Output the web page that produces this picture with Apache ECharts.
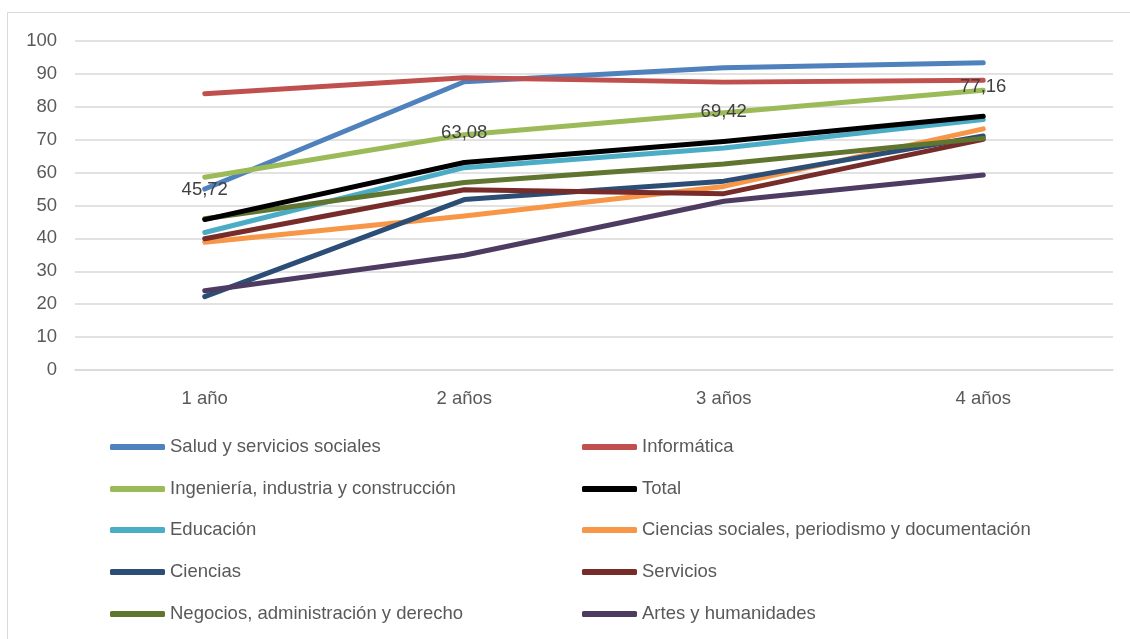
<!DOCTYPE html>
<html>
<head>
<meta charset="utf-8">
<script src="https://cdn.jsdelivr.net/npm/echarts@6/dist/echarts.min.js"></script>
<style>html,body{margin:0;padding:0;background:#fff}#c{width:1130px;height:639px}</style>
</head>
<body>
<div id="c"></div>
<script>
const categories = ['1 año', '2 años', '3 años', '4 años'];
const yTicks = [0, 10, 20, 30, 40, 50, 60, 70, 80, 90, 100];

const salud      = [55.0, 87.6, 91.9, 93.4];
const informatica= [84.0, 88.8, 87.5, 88.1];
const ingenieria = [58.6, 71.5, 78.2, 85.0];
const total      = [45.72, 63.08, 69.42, 77.16];
const educacion  = [41.8, 61.5, 67.5, 76.1];
const cSociales  = [38.8, 46.8, 55.8, 73.3];
const ciencias   = [22.3, 51.8, 57.4, 71.1];
const servicios  = [39.9, 54.8, 53.6, 70.1];
const negocios   = [46.0, 57.0, 62.6, 70.4];
const artes      = [24.1, 34.9, 51.3, 59.3];

const seriesDefs = [
  ['Salud y servicios sociales', salud, '#4F81BD'],
  ['Informática', informatica, '#C0504D'],
  ['Ingeniería, industria y construcción', ingenieria, '#9BBB59'],
  ['Total', total, '#000000'],
  ['Educación', educacion, '#4BACC6'],
  ['Ciencias sociales, periodismo y documentación', cSociales, '#F79646'],
  ['Ciencias', ciencias, '#2C4D75'],
  ['Servicios', servicios, '#772C2A'],
  ['Negocios, administración y derecho', negocios, '#5F7530'],
  ['Artes y humanidades', artes, '#4D3B62']
];

const FONT = 'Liberation Sans';
const FS = 18.5;
const chart = echarts.init(document.getElementById('c'), null, {renderer: 'canvas'});

const order = [0,1,2,4,5,6,7,8,9,3];
const series = order.map(i => {
  const [name, data, color] = seriesDefs[i];
  const s = {
    name, type: 'line', data, symbol: 'circle', symbolSize: 0, showSymbol: true,
    lineStyle: {color, width: 5, cap: 'round', join: 'round'},
    itemStyle: {color},
    z: i === 3 ? 5 : 2,
    animation: false
  };
  if (name === 'Total') {
    s.label = {
      show: true, position: 'top', distance: 20,
      formatter: p => p.value.toFixed(2).replace('.', ','),
      color: '#404040', fontSize: FS, fontFamily: FONT
    };
  }
  return s;
});

const rowCenters = [447, 489, 530, 572, 614];
const legends = [];
seriesDefs.forEach((d, i) => {
  const row = Math.floor(i / 2), col = i % 2;
  legends.push({
    data: [d[0]], icon: 'roundRect', itemWidth: 55, itemHeight: 6, padding: 0,
    left: col === 0 ? 110 : 582, top: rowCenters[row] - 11,
    textStyle: {color: '#595959', fontSize: FS, fontFamily: FONT, lineHeight: 22, padding: [0,0,0,0]}
  });
});

chart.setOption({
  animation: false,
  graphic: [{
    type: 'rect', shape: {x: 7.5, y: 12.5, width: 1200, height: 700},
    style: {fill: 'none', stroke: '#d9d9d9', lineWidth: 1}, silent: true, z: -1
  }],
  grid: {left: 75, right: 17, top: 41, bottom: 269, containLabel: false},
  legend: legends,
  xAxis: {
    type: 'category', data: categories, boundaryGap: true,
    axisLine: {show: true, lineStyle: {color: '#d9d9d9', width: 1.5}},
    axisTick: {show: false},
    axisLabel: {color: '#595959', fontSize: FS, fontFamily: FONT, margin: 19}
  },
  yAxis: {
    type: 'value', min: 0, max: 100, interval: 10,
    axisLine: {show: false}, axisTick: {show: false},
    splitLine: {lineStyle: {color: '#d9d9d9', width: 1.5}},
    axisLabel: {color: '#595959', fontSize: FS, fontFamily: FONT, margin: 18,
      formatter: v => yTicks.includes(v) ? String(v) : ''}
  },
  series
});
</script>
</body>
</html>
